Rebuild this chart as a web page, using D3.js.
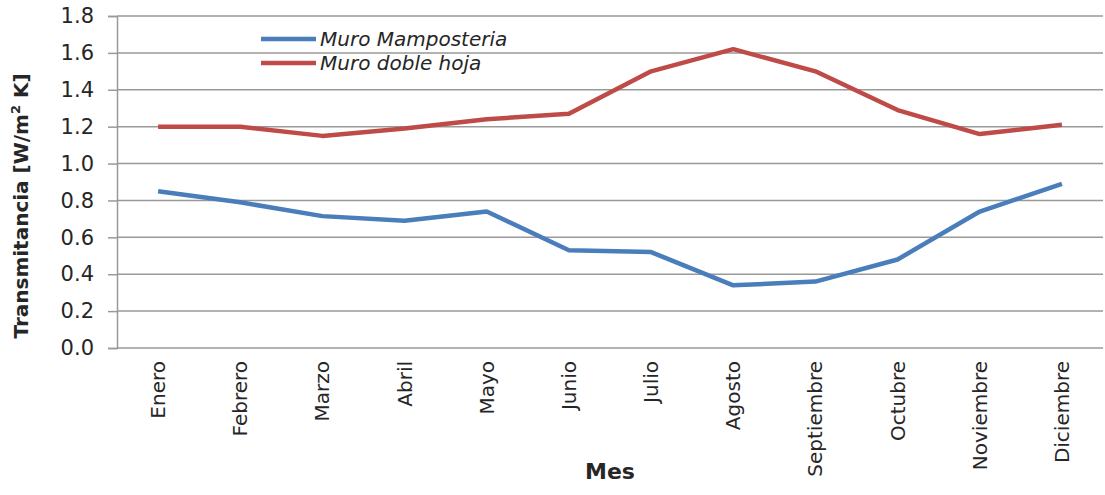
<!DOCTYPE html>
<html>
<head>
<meta charset="utf-8">
<script src="https://cdn.jsdelivr.net/npm/d3@7"></script>
<style>
    body { margin: 0; background: white; }
    text { font-family: "DejaVu Sans", sans-serif; fill: #262626; }
</style>
</head>
<body>
<svg id="chart" width="1105" height="495"></svg>
<script>
const meses = ["Enero", "Febrero", "Marzo", "Abril", "Mayo", "Junio", "Julio", "Agosto", "Septiembre", "Octubre", "Noviembre", "Diciembre"];
const muroMamposteria = [0.85, 0.79, 0.715, 0.69, 0.74, 0.53, 0.52, 0.34, 0.36, 0.48, 0.74, 0.89];
const muroDobleHoja = [1.20, 1.20, 1.15, 1.19, 1.24, 1.27, 1.50, 1.62, 1.50, 1.29, 1.16, 1.21];
const yTicks = [0, 0.2, 0.4, 0.6, 0.8, 1.0, 1.2, 1.4, 1.6, 1.8];

const series = [
    { name: "Muro Mamposteria", values: muroMamposteria, color: "#4a7ebb" },
    { name: "Muro doble hoja", values: muroDobleHoja, color: "#be4b48" }
];

const largeur = 1105,
    hauteur = 495;
const margin = { top: 16, right: 2, bottom: 147, left: 117 };

const svgSpace = d3.select("#chart");

const x = d3.scaleBand()
    .domain(meses)
    .range([margin.left, largeur - margin.right]);

const y = d3.scaleLinear()
    .domain([0, 1.8])
    .range([hauteur - margin.bottom, margin.top]);

// grid + y axis
const yAxis = svgSpace.append("g")
    .attr("transform", "translate(" + margin.left + ",0)")
    .call(d3.axisLeft(y)
        .tickValues(yTicks)
        .tickSize(9)
        .tickPadding(14)
        .tickFormat(d3.format(".1f")));
yAxis.select(".domain").attr("stroke", "#999").attr("stroke-width", 1.5);
yAxis.selectAll(".tick line").attr("stroke", "#999").attr("stroke-width", 1.5);
yAxis.selectAll(".tick text")
    .style("font-size", "21px")
    .attr("fill", "#333");

svgSpace.append("g")
    .selectAll("line")
    .data(yTicks)
    .enter()
    .append("line")
    .attr("x1", margin.left)
    .attr("x2", largeur - margin.right)
    .attr("y1", (d) => y(d))
    .attr("y2", (d) => y(d))
    .attr("stroke", "#999")
    .attr("stroke-width", 1.5);

// x labels
svgSpace.append("g")
    .selectAll("text")
    .data(meses)
    .enter()
    .append("text")
    .text((d) => d)
    .attr("transform", (d) => "translate(" + (x(d) + x.bandwidth() / 2 + 7) + "," + (hauteur - margin.bottom + 13) + ") rotate(-90)")
    .style("text-anchor", "end")
    .style("font-size", "20px")
    .attr("fill", "#333");

// lines
const line = d3.line()
    .x((d, i) => x(meses[i]) + x.bandwidth() / 2)
    .y((d) => y(d));

svgSpace.append("g")
    .selectAll("path")
    .data(series)
    .enter()
    .append("path")
    .attr("d", (d) => line(d.values))
    .attr("fill", "none")
    .attr("stroke", (d) => d.color)
    .attr("stroke-width", 4.5)
    .attr("stroke-linejoin", "round");

// legend
const legend = svgSpace.append("g")
    .selectAll("g")
    .data(series)
    .enter()
    .append("g")
    .attr("transform", (d, i) => "translate(261," + (39 + i * 24) + ")");
legend.append("line")
    .attr("x1", 0)
    .attr("x2", 55)
    .attr("stroke", (d) => d.color)
    .attr("stroke-width", 4.5);
legend.append("text")
    .text((d) => d.name)
    .attr("x", 59)
    .attr("y", 7)
    .style("font-size", "20px")
    .style("font-style", "italic")
    .attr("fill", "#333");

// axis titles
svgSpace.append("text")
    .text("Mes")
    .attr("x", (margin.left + largeur - margin.right) / 2)
    .attr("y", 479)
    .style("text-anchor", "middle")
    .style("font-size", "22px")
    .style("font-weight", "bold")
    .attr("fill", "#000");

svgSpace.append("text")
    .attr("transform", "translate(28,206) rotate(-90)")
    .style("text-anchor", "middle")
    .style("font-size", "20px")
    .style("font-weight", "bold")
    .attr("fill", "#000")
    .html("Transmitancia [W/m<tspan font-size='13px' dy='-8'>2</tspan><tspan dy='8'> K]</tspan>");
</script>
</body>
</html>
